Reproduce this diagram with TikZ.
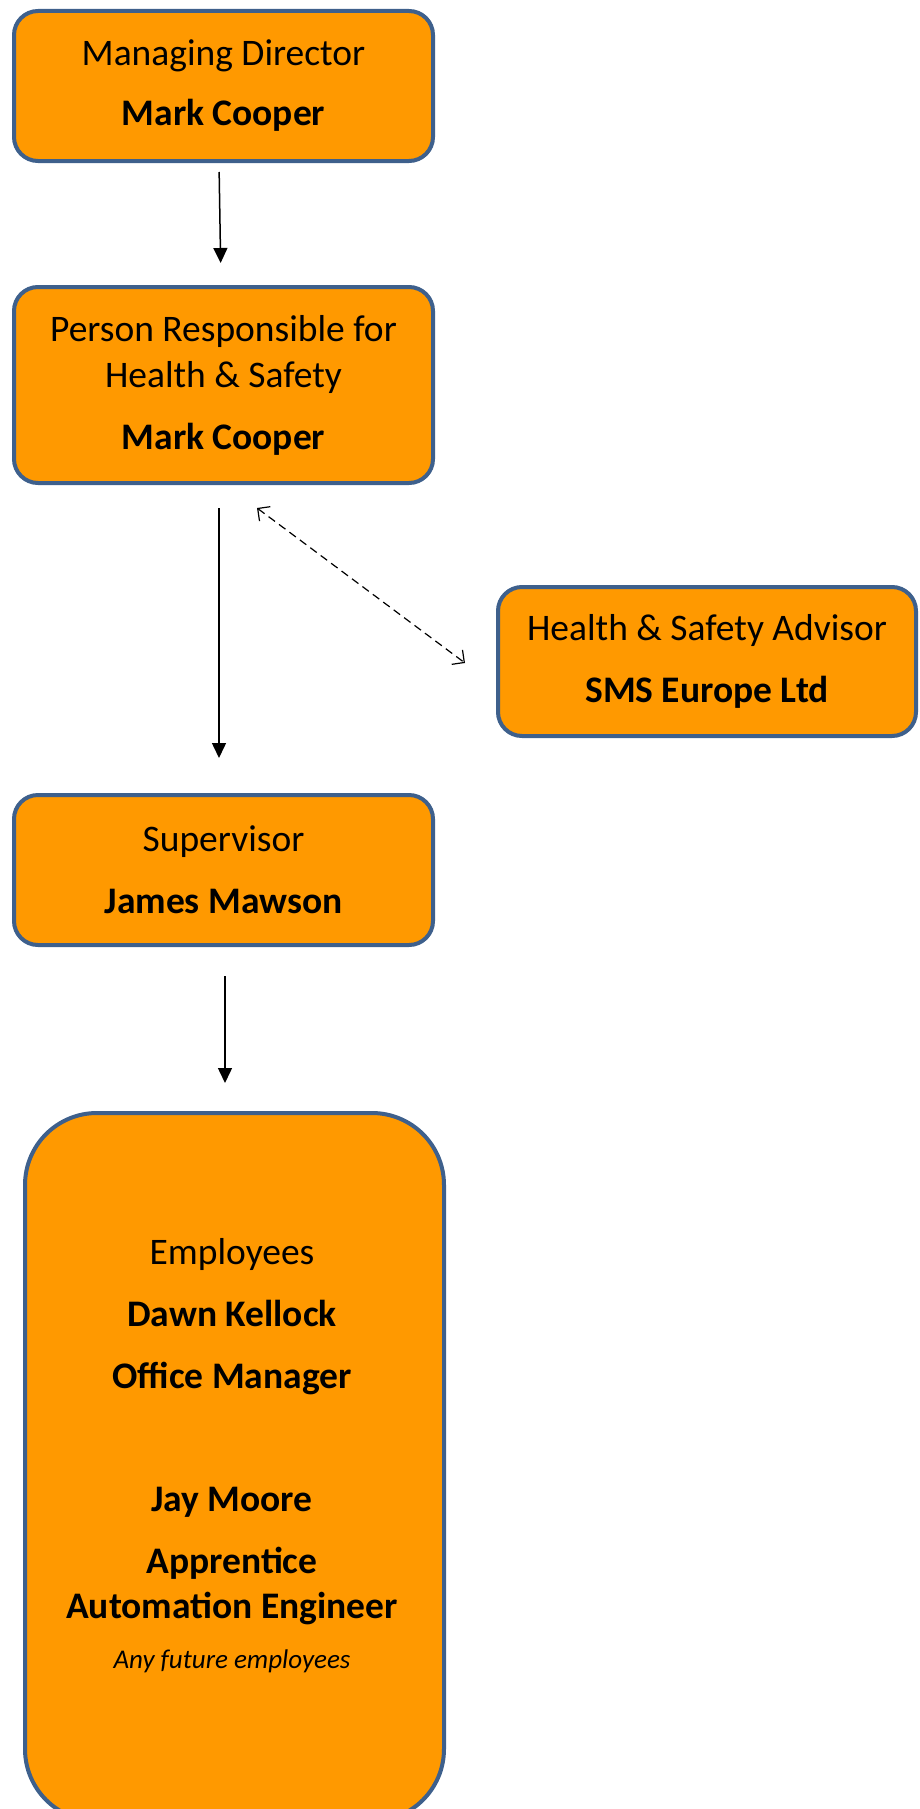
\documentclass[tikz,border=0pt]{standalone}
\usepackage{fontspec}
\setmainfont{Carlito}
\usetikzlibrary{arrows.meta}
\definecolor{boxorange}{RGB}{255,153,0}
\definecolor{boxblue}{RGB}{62,96,140}
\begin{document}
\begin{tikzpicture}[x=1pt,y=-1pt,
		orgbox/.style={draw=boxblue,line width=4pt,fill=boxorange,rounded corners=24pt,
			minimum width=419pt,inner sep=0pt,align=center,font=\fontsize{37.5}{46}\selectfont},
		reports/.style={line width=1.5pt,-{Triangle[length=15pt,width=14pt]}},
		advises/.style={line width=1.2pt,dash pattern=on 8pt off 5pt,
			{Straight Barb[length=9pt,width=18pt]}-{Straight Barb[length=9pt,width=18pt]}}]
	\useasboundingbox (0,0) rectangle (920,1809);
	\clip (0,0) rectangle (920,1809);
	% boxes
	\node[orgbox,minimum height=150pt] (md) at (223.5,86) {Managing Director\\[14pt]\textbf{Mark Cooper}};
	\node[orgbox,minimum height=196pt] (prh) at (223.5,385) {Person Responsible for\\Health \& Safety\\[16pt]\textbf{Mark Cooper}};
	\node[orgbox,minimum width=418pt,minimum height=149pt] (adv) at (707,661.5) {Health \& Safety Advisor\\[16pt]\textbf{SMS Europe Ltd}};
	\node[orgbox,minimum height=150pt] (sup) at (223.5,870) {Supervisor\\[16pt]\textbf{James Mawson}};
	\node[orgbox,minimum height=708pt,rounded corners=72pt] (emp) at (234.5,1467) {};
	\node[align=center,font=\fontsize{37.5}{45}\selectfont] (emptext) at (232,1456)
		{Employees\\[17pt]\textbf{Dawn Kellock}\\[17pt]\textbf{Office Manager}\\[78pt]\textbf{Jay Moore}\\[17pt]\textbf{Apprentice}\\\textbf{Automation Engineer}\\[5pt]{\fontsize{27}{32}\selectfont\itshape Any future employees}};
	% arrows
	\draw[reports,shorten <=9pt,shorten >=22pt] ([xshift=-4.5pt]md.south) -- ([xshift=-2.5pt]prh.north);
	\draw[reports,shorten <=23pt,shorten >=35pt] ([xshift=-4.5pt]prh.south) -- ([xshift=-4.5pt]sup.north);
	\draw[reports,shorten <=29pt,shorten >=28pt] ([xshift=1.5pt]sup.south) -- ([xshift=-9.5pt]emp.north);
	\coordinate (advnear) at (257,508);
	\coordinate (advfar) at (465,663);
	\draw[advises] (advnear) -- (advfar);
\end{tikzpicture}
\end{document}
